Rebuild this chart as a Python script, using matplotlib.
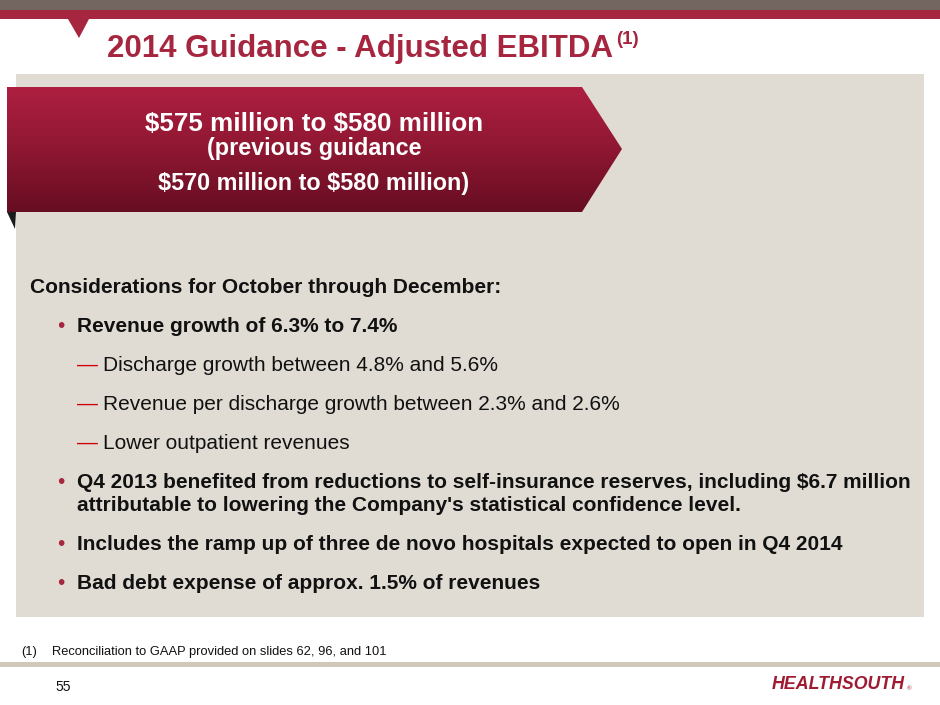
import numpy as np
import matplotlib
matplotlib.use("Agg")
import matplotlib.pyplot as plt
from matplotlib.patches import Polygon, Rectangle
from matplotlib.colors import LinearSegmentedColormap

plt.rcParams['font.family'] = ['Liberation Sans', 'DejaVu Sans']

# slide content
title_text = "2014 Guidance - Adjusted EBITDA"
title_note = "(1)"
guidance_main = "$575 million to $580 million"
guidance_prev = ["(previous guidance", "$570 million to $580 million)"]
heading = "Considerations for October through December:"
item_levels = [1, 2, 2, 2, 1, 1, 1]
item_lines = [
    ["Revenue growth of 6.3% to 7.4%"],
    ["Discharge growth between 4.8% and 5.6%"],
    ["Revenue per discharge growth between 2.3% and 2.6%"],
    ["Lower outpatient revenues"],
    ["Q4 2013 benefited from reductions to self-insurance reserves, including $6.7 million",
     "attributable to lowering the Company's statistical confidence level."],
    ["Includes the ramp up of three de novo hospitals expected to open in Q4 2014"],
    ["Bad debt expense of approx. 1.5% of revenues"],
]
footnote_mark = "(1)"
footnote_text = "Reconciliation to GAAP provided on slides 62, 96, and 101"
page_no = "55"
logo_text = "HEALTHSOUTH"

crimson = '#A6253F'
ink = '#111111'

fig = plt.figure(figsize=(9.4, 7.05), dpi=100)
ax = fig.add_axes([0, 0, 1, 1])
ax.set_xlim(0, 940)
ax.set_ylim(705, 0)
ax.axis('off')

# top bands + little pointer
ax.add_patch(Rectangle((0, 0), 940, 10, color='#736560', lw=0))
ax.add_patch(Rectangle((0, 10), 940, 9, color='#A6263F', lw=0))
ax.add_patch(Polygon([(68, 19), (89, 19), (79, 38)], closed=True, color='#A6263F', lw=0))

ax.text(107, 57, title_text, fontsize=22.5, fontweight='bold', color=crimson, va='baseline')
ax.text(616, 44, title_note, fontsize=13.5, fontweight='bold', color=crimson, va='baseline')

# grey panel
ax.add_patch(Rectangle((16, 74), 908, 543, color='#E0DCD4', lw=0))

# banner arrow with vertical gradient
banner = Polygon([(7, 87), (582, 87), (622, 149), (582, 212), (7, 212)], closed=True,
                 facecolor='none', edgecolor='none')
ax.add_patch(banner)
grad = np.linspace(0, 1, 200).reshape(-1, 1)
cmap = LinearSegmentedColormap.from_list('banner', ['#AE1F40', '#8E1732', '#670D22'])
im = ax.imshow(grad, extent=(7, 622, 212, 87), aspect='auto', cmap=cmap, zorder=2)
im.set_clip_path(banner)
ax.add_patch(Polygon([(7, 212), (16, 212), (15, 229)], closed=True, color='#1a1a1a', lw=0))

ax.text(314, 131, guidance_main, fontsize=18.7, fontweight='bold', color='white',
        ha='center', va='baseline', parse_math=False, zorder=3)
for txt, yb in zip(guidance_prev, [155, 190]):
    ax.text(314, yb, txt, fontsize=16.8, fontweight='bold', color='white',
            ha='center', va='baseline', parse_math=False, zorder=3)

# body text
ax.text(30, 293, heading, fontsize=15, fontweight='bold', color=ink, va='baseline')
y = 332
for lvl, lines in zip(item_levels, item_lines):
    if lvl == 1:
        ax.text(57, y, '\u2022', fontsize=15, color=crimson, va='baseline')
        for k, ln in enumerate(lines):
            ax.text(77, y + 23 * k, ln, fontsize=15, fontweight='bold', color=ink,
                    va='baseline', parse_math=False)
    else:
        ax.text(77, y, '\u2014', fontsize=15, color='#D00000', va='baseline')
        ax.text(103, y, lines[0], fontsize=15, color=ink, va='baseline', parse_math=False)
    y += 39 + 23 * (len(lines) - 1)

# footer
ax.text(21, 655, footnote_mark, fontsize=9.3, color=ink, va='baseline')
ax.text(52, 655, footnote_text, fontsize=9.3, color=ink, va='baseline')
ax.add_patch(Rectangle((0, 662), 940, 5, color='#D0C8B8', lw=0))
ax.text(55, 687, page_no, fontsize=10, color=ink, va='center')
ax.text(772, 689, logo_text, fontsize=12.8, fontweight='bold', fontstyle='italic',
        color='#9E1B32', va='baseline')
ax.text(907, 690, '\u00ae', fontsize=4.5, color='#9E1B32', va='baseline')

fig.savefig('out.png', dpi=100)
